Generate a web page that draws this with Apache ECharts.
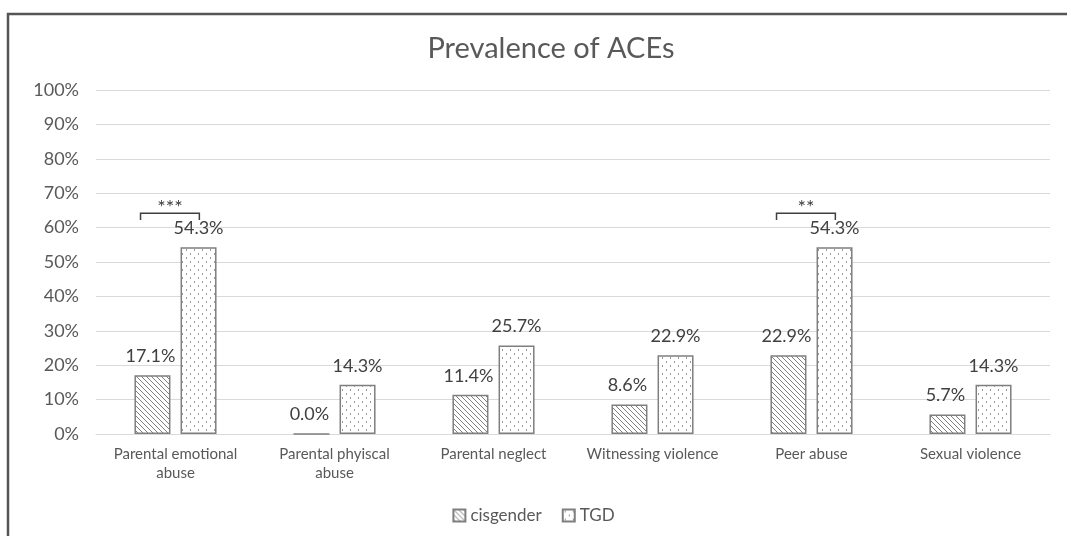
<!DOCTYPE html>
<html>
<head>
<meta charset="utf-8">
<script src="https://cdn.jsdelivr.net/npm/echarts@6/dist/echarts.min.js"></script>
<style>html,body{margin:0;padding:0;background:#fff;}#c{width:1067px;height:536px;}</style>
</head>
<body>
<div id="c"></div>
<script>
const categories = ['Parental emotional\nabuse', 'Parental phyiscal\nabuse', 'Parental neglect', 'Witnessing violence', 'Peer abuse', 'Sexual violence'];
const cisgender = [17.1, 0.0, 11.4, 8.6, 22.9, 5.7];
const tgd = [54.3, 14.3, 25.7, 22.9, 54.3, 14.3];
const yTicks = [0, 10, 20, 30, 40, 50, 60, 70, 80, 90, 100];
// significance brackets: [categoryIndex, bracketLevel(%), label]
const significance = [[0, 64.2, '***'], [4, 64.2, '**']];

const FONT = 'Lato, "Open Sans", sans-serif';

function hatchPattern() {
  const s = 5;
  const c = document.createElement('canvas');
  c.width = s; c.height = s;
  const g = c.getContext('2d');
  g.fillStyle = '#ffffff'; g.fillRect(0, 0, s, s);
  g.strokeStyle = '#808080'; g.lineWidth = 1;
  g.beginPath();
  g.moveTo(0, 0); g.lineTo(s, s);
  g.moveTo(-s, 0); g.lineTo(s, 2 * s);
  g.moveTo(0, -s); g.lineTo(2 * s, s);
  g.stroke();
  return c;
}
function dotPattern() {
  const c = document.createElement('canvas');
  c.width = 8; c.height = 8;
  const g = c.getContext('2d');
  g.fillStyle = '#ffffff'; g.fillRect(0, 0, 8, 8);
  g.fillStyle = '#999999';
  g.fillRect(2, 1, 1, 2);
  g.fillRect(6, 5, 1, 2);
  return c;
}
const hatch = { image: hatchPattern(), repeat: 'repeat' };
const dots = { image: dotPattern(), repeat: 'repeat' };

const chart = echarts.init(document.getElementById('c'));
const labelStyle = {
  show: true, position: 'top', distance: 10,
  formatter: p => p.value.toFixed(1) + '%',
  color: '#404040', fontSize: 18, fontFamily: FONT
};
chart.setOption({
  animation: false,
  backgroundColor: '#ffffff',
  title: {
    text: 'Prevalence of ACEs', left: 546, textAlign: 'center', top: 29,
    textStyle: { fontFamily: FONT, fontWeight: 'normal', fontSize: 29, color: '#595959' }
  },
  legend: {
    bottom: 7, left: 'center', itemWidth: 12, itemHeight: 12, itemGap: 20,
    icon: 'rect',
    textStyle: { fontFamily: FONT, fontSize: 17, color: '#595959' },
    data: ['cisgender', 'TGD']
  },
  grid: { left: 96, right: 17, top: 90, bottom: 102 },
  xAxis: {
    type: 'category', data: categories,
    axisTick: { show: false },
    axisLine: { lineStyle: { color: '#d9d9d9', width: 1 } },
    axisLabel: { fontFamily: FONT, fontSize: 15, color: '#595959', interval: 0, lineHeight: 19, margin: 11 }
  },
  yAxis: {
    type: 'value', min: 0, max: 100, interval: 10,
    axisLabel: { formatter: v => yTicks.includes(v) ? v + '%' : '', fontFamily: FONT, fontSize: 18, color: '#595959', margin: 17 },
    splitLine: { lineStyle: { color: '#d9d9d9', width: 1 } },
    axisLine: { show: false }, axisTick: { show: false }
  },
  series: [
    {
      name: 'cisgender', type: 'bar', data: cisgender, barWidth: 36, barGap: '28%',
      itemStyle: { color: hatch, borderColor: '#7f7f7f', borderWidth: 1.5 },
      label: Object.assign({}, labelStyle, { offset: [-2, 0] })
    },
    {
      name: 'TGD', type: 'bar', data: tgd, barWidth: 36,
      itemStyle: { color: dots, borderColor: '#7f7f7f', borderWidth: 1.5 },
      label: labelStyle
    },
    {
      name: 'sig', type: 'custom', data: significance, silent: true, z: 5,
      encode: { x: 0, y: 1 },
      renderItem: function (params, api) {
        const ci = api.value(0);
        const lvl = api.value(1);
        const center = api.coord([ci, lvl]);
        const tickEnd = api.coord([ci, lvl - 2]);
        const catW = api.size([1, 0])[0];
        const x1 = center[0] - catW * 0.22;
        const x2 = center[0] + catW * 0.15;
        const y = center[1];
        const label = significance[params.dataIndex][2];
        return {
          type: 'group',
          children: [
            { type: 'polyline', shape: { points: [[x1, tickEnd[1]], [x1, y], [x2, y], [x2, tickEnd[1]]] },
              style: { stroke: '#404040', lineWidth: 1.5, fill: null } },
            { type: 'text', style: { text: label, x: (x1 + x2) / 2, y: y + 4, align: 'center', verticalAlign: 'bottom',
              fontSize: 20, fontFamily: FONT, fill: '#404040' } }
          ]
        };
      }
    }
  ],
  graphic: [
    { type: 'rect', shape: { x: 8, y: 14, width: 1200, height: 800 }, style: { fill: null, stroke: '#555555', lineWidth: 2.5 }, z: 100, silent: true }
  ]
});
</script>
</body>
</html>
